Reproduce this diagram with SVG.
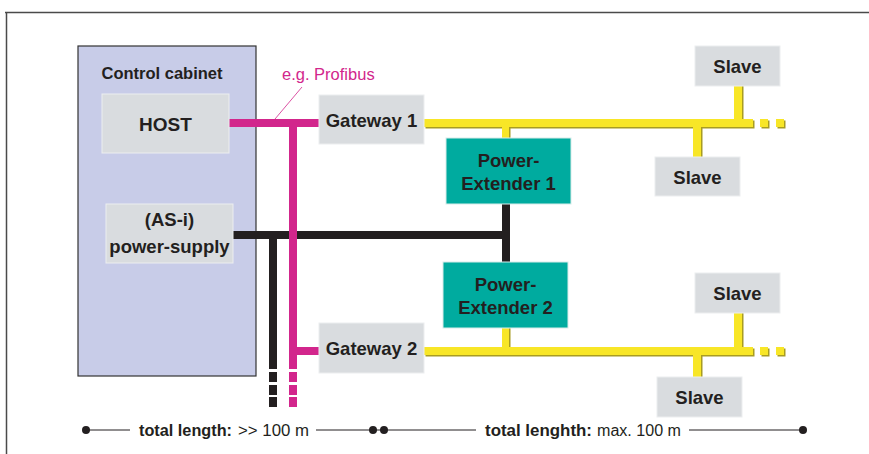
<svg xmlns="http://www.w3.org/2000/svg" width="869" height="454" viewBox="0 0 869 454">
<defs>
<style>
.box{fill:#d9dcdf;stroke:#eceeef;stroke-width:1}
.pe{fill:#00ab9f;stroke:#d8ece9;stroke-width:1}
.lbl{font-family:"Liberation Sans",Arial,sans-serif;font-weight:bold;font-size:18.5px;fill:#231f20;text-anchor:middle}
.y{fill:#f8e627}
.ys{fill:#a89c22}
.m{fill:#d2268c}
.k{fill:#231f20}
.bt{font-family:"Liberation Sans",Arial,sans-serif;font-size:16px;fill:#231f20}
</style>
</defs>
<rect width="869" height="454" fill="#ffffff"/>
<g id="frame">
<line x1="5" y1="12.5" x2="869" y2="12.5" stroke="#4a4a4a" stroke-width="1.5"/>
<line x1="6.5" y1="12" x2="6.5" y2="454" stroke="#4a4a4a" stroke-width="1.5"/>
</g>
<g id="cabinet">
<rect x="78" y="46" width="178" height="330" fill="#c8cce8" stroke="#333" stroke-width="1.2"/>
<text x="162" y="79" class="lbl" style="font-size:16.5px">Control cabinet</text>
</g>
<g id="connectors">
<!-- black power lines -->
<rect class="k" x="233" y="231" width="277" height="8"/>
<rect class="k" x="502" y="204" width="8" height="58"/>
<rect class="k" x="269" y="235" width="8" height="134"/>
<rect class="k" x="269" y="372" width="8" height="10"/>
<rect class="k" x="269" y="385" width="8" height="10"/>
<rect class="k" x="269" y="397" width="8" height="10"/>
<!-- magenta profibus -->
<rect class="m" x="229" y="119" width="90" height="8"/>
<rect class="m" x="289" y="123" width="8" height="246"/>
<rect class="m" x="289" y="347" width="30" height="8"/>
<rect class="m" x="289" y="372" width="8" height="10"/>
<rect class="m" x="289" y="385" width="8" height="10"/>
<rect class="m" x="289" y="397" width="8" height="10"/>
<line x1="302" y1="87" x2="275" y2="119" stroke="#d2268c" stroke-width="0.8"/>
<!-- yellow bus 1 shadows -->
<rect class="ys" x="425.5" y="120.5" width="329" height="8"/>
<rect class="ys" x="503.5" y="127" width="7" height="11"/>
<rect class="ys" x="694.5" y="127" width="8" height="30"/>
<rect class="ys" x="735.5" y="86" width="8" height="35"/>
<rect class="ys" x="761.5" y="120.5" width="8" height="8"/>
<rect class="ys" x="777.5" y="120.5" width="8" height="8"/>
<!-- yellow bus 1 -->
<rect class="y" x="424" y="119" width="329" height="8"/>
<rect class="y" x="502" y="126" width="7" height="12"/>
<rect class="y" x="693" y="126" width="8" height="31"/>
<rect class="y" x="734" y="86" width="8" height="34"/>
<rect class="y" x="760" y="119" width="8" height="8"/>
<rect class="y" x="776" y="119" width="8" height="8"/>
<!-- yellow bus 2 shadows -->
<rect class="ys" x="425.5" y="348.5" width="329" height="8"/>
<rect class="ys" x="503.5" y="328" width="7" height="21"/>
<rect class="ys" x="735.5" y="313" width="8" height="36"/>
<rect class="ys" x="694.5" y="355" width="8" height="22"/>
<rect class="ys" x="761.5" y="348.5" width="8" height="8"/>
<rect class="ys" x="777.5" y="348.5" width="8" height="8"/>
<!-- yellow bus 2 -->
<rect class="y" x="424" y="347" width="329" height="8"/>
<rect class="y" x="502" y="328" width="7" height="20"/>
<rect class="y" x="734" y="313" width="8" height="35"/>
<rect class="y" x="693" y="354" width="8" height="23"/>
<rect class="y" x="760" y="347" width="8" height="8"/>
<rect class="y" x="776" y="347" width="8" height="8"/>
</g>
<text x="282" y="80" style="font-family:'Liberation Sans',Arial,sans-serif;font-size:16.5px;fill:#d2268c">e.g. Profibus</text>
<g id="host">
<rect class="box" x="102" y="94" width="127" height="59"/>
<text x="165.5" y="131" class="lbl" style="font-size:19px">HOST</text>
</g>
<g id="psu">
<rect class="box" x="106" y="204" width="127" height="59"/>
<text x="169.5" y="226" class="lbl">(AS-i)</text>
<text x="169.5" y="253" class="lbl">power-supply</text>
</g>
<g id="gateway1">
<rect class="box" x="319" y="95" width="105" height="49"/>
<text x="371.5" y="127" class="lbl">Gateway 1</text>
</g>
<g id="gateway2">
<rect class="box" x="319" y="323" width="105" height="50"/>
<text x="371.5" y="355" class="lbl">Gateway 2</text>
</g>
<g id="pe1">
<rect class="pe" x="446" y="138" width="125" height="66"/>
<text x="508.5" y="167" class="lbl">Power-</text>
<text x="508.5" y="190" class="lbl">Extender 1</text>
</g>
<g id="pe2">
<rect class="pe" x="443" y="262" width="125" height="66"/>
<text x="505.5" y="291" class="lbl">Power-</text>
<text x="505.5" y="314" class="lbl">Extender 2</text>
</g>
<g id="slave1a">
<rect class="box" x="695" y="46" width="85" height="40"/>
<text x="737.5" y="73" class="lbl">Slave</text>
</g>
<g id="slave1b">
<rect class="box" x="655" y="157" width="85" height="39"/>
<text x="697.5" y="184" class="lbl">Slave</text>
</g>
<g id="slave2a">
<rect class="box" x="695" y="273" width="85" height="40"/>
<text x="737.5" y="300" class="lbl">Slave</text>
</g>
<g id="slave2b">
<rect class="box" x="657" y="377" width="85" height="40"/>
<text x="699.5" y="404" class="lbl">Slave</text>
</g>
<g id="dimension">
<line x1="86" y1="430" x2="130" y2="430" stroke="#231f20" stroke-width="1"/>
<line x1="316" y1="430" x2="384" y2="430" stroke="#231f20" stroke-width="1"/>
<line x1="384" y1="430" x2="476" y2="430" stroke="#231f20" stroke-width="1"/>
<line x1="689" y1="430" x2="803" y2="430" stroke="#231f20" stroke-width="1"/>
<circle cx="86" cy="430" r="4" fill="#231f20"/>
<circle cx="373" cy="430" r="4" fill="#231f20"/>
<circle cx="384" cy="430" r="4" fill="#231f20"/>
<circle cx="803" cy="430" r="4" fill="#231f20"/>
<text x="139" y="436" class="bt" style="font-weight:bold" textLength="93" lengthAdjust="spacingAndGlyphs">total length:</text>
<text x="238" y="436" class="bt" textLength="71" lengthAdjust="spacingAndGlyphs">&gt;&gt; 100 m</text>
<text x="485" y="436" class="bt" style="font-weight:bold" textLength="107" lengthAdjust="spacingAndGlyphs">total lenghth:</text>
<text x="597" y="436" class="bt" textLength="84" lengthAdjust="spacingAndGlyphs">max. 100 m</text>
</g>
</svg>
